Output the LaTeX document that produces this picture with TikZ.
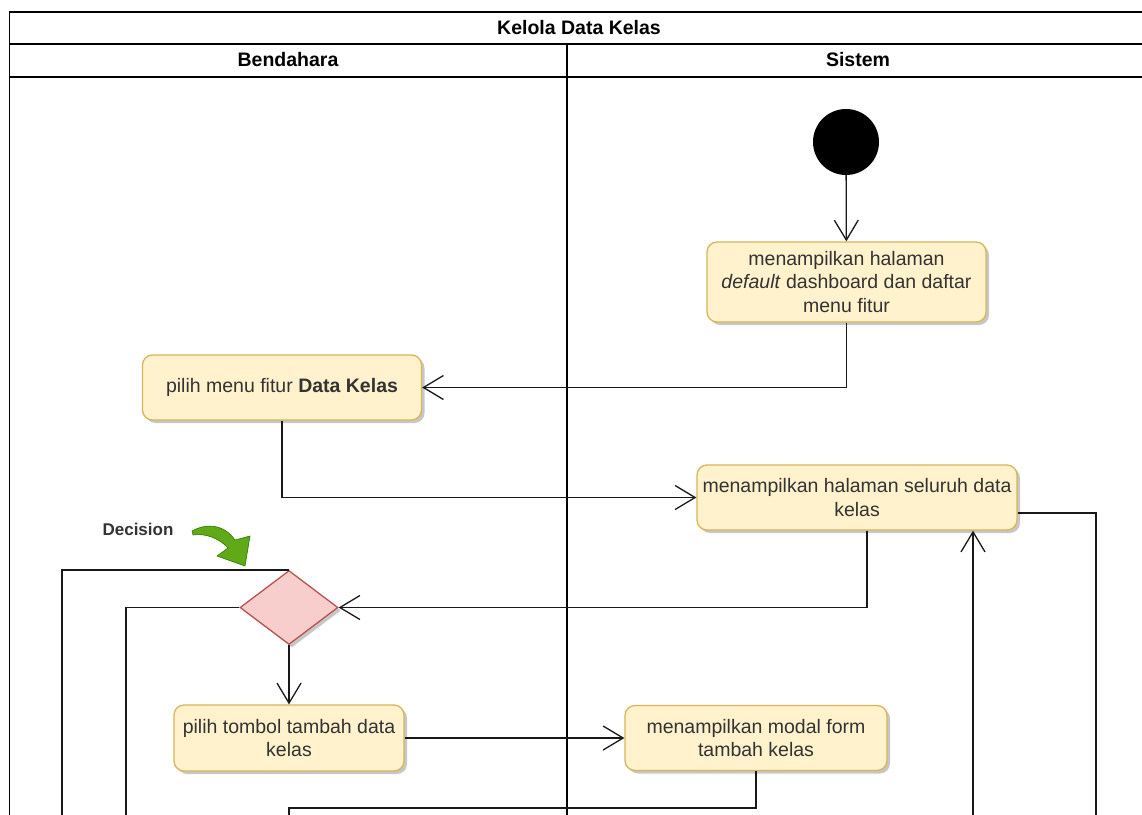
\documentclass[tikz,border=0pt]{standalone}
\usepackage{fontspec}
\setmainfont{Liberation Sans}
\usetikzlibrary{arrows.meta,shapes.geometric,shadows,calc}
\definecolor{actfill}{HTML}{FFF2CC}
\definecolor{actdraw}{HTML}{D6B656}
\definecolor{decfill}{HTML}{F8CECC}
\definecolor{decdraw}{HTML}{B85450}
\definecolor{gfill}{HTML}{60A917}
\definecolor{gdraw}{HTML}{2D7600}
\definecolor{txt}{HTML}{333333}
\begin{document}
\begin{tikzpicture}[x=1pt,y=-1pt,
  act/.style={rectangle, rounded corners=10pt, draw=actdraw, fill=actfill, line width=1.3pt,
    align=center, text=txt, font=\fontsize{19.5}{23.5}\selectfont, inner sep=0pt,
    drop shadow={shadow xshift=3pt, shadow yshift=-3pt, fill=black, opacity=0.22}},
  dec/.style={diamond, draw=decdraw, fill=decfill, line width=1.3pt, inner sep=0pt,
    minimum width=98pt, minimum height=74pt,
    drop shadow={shadow xshift=3pt, shadow yshift=-3pt, fill=black, opacity=0.22}},
  conn/.style={draw=black!90, line width=1.3pt},
  arr/.style={conn, -{Straight Barb[length=20pt,width=24pt]}},
  frame/.style={draw=black, line width=1.6pt},
  hdr/.style={font=\bfseries\fontsize{19.5}{23.5}\selectfont, text=black, inner sep=0pt}
]
\useasboundingbox (0,0) rectangle (1142,814);
\clip (0,0) rectangle (1142,814);
\fill[white] (0,0) rectangle (1142,814);

% swimlane frame
\draw[frame] (9.5,12) rectangle (1150,900);
\draw[frame] (9.5,44) -- (1150,44);
\draw[frame] (9.5,77) -- (1150,77);
\draw[frame] (567,44) -- (567,900);
\node[hdr] (title) at (579,28) {Kelola Data Kelas};
\node[hdr] (lane1) at (288,60) {Bendahara};
\node[hdr] (lane2) at (858,60) {Sistem};

% nodes
\node[circle, fill=black, minimum size=66pt, inner sep=0pt] (start) at (846,142) {};
\node[act, minimum width=279pt, minimum height=80pt] (b1) at (846.5,282)
  {menampilkan halaman\\\textit{default} dashboard dan daftar\\menu fitur};
\node[act, minimum width=279pt, minimum height=65pt] (b2) at (282,387.5)
  {pilih menu fitur \textbf{Data Kelas}};
\node[act, minimum width=320pt, minimum height=65pt] (b3) at (857,497.5)
  {menampilkan halaman seluruh data\\kelas};
\node[dec] (d) at (289,607.5) {};
\node[act, minimum width=230pt, minimum height=66pt] (b4) at (289,738)
  {pilih tombol tambah data\\kelas};
\node[act, minimum width=262pt, minimum height=65pt] (b5) at (756,738)
  {menampilkan modal form\\tambah kelas};

% label
\node[font=\bfseries\fontsize{17}{20}\selectfont, text=txt, inner sep=0pt] (declbl) at (138,529) {Decision};
\filldraw[fill=gfill, draw=gdraw, line width=0.6pt]
  (192,531) .. controls (206,523) and (224,524) .. (235,540) -- (250,536) -- (245,566)
  -- (217,556) -- (228,548) .. controls (219,538) and (205,533) .. (193,535) -- cycle;

% free-end coordinates (below the visible area)
\coordinate (e1) at (1096,840);
\coordinate (e2) at (973,840);
\coordinate (e3) at (62,840);
\coordinate (e4) at (126,840);
\coordinate (e5) at (289,840);

% connectors
\draw[arr] (start) -- (b1);
\draw[arr] (b1.south) |- (b2.east);
\draw[arr] (b2.south) |- (b3.west);
\draw[arr] ($(b3.south)+(10,0)$) |- (d.east);
\draw[conn] ($(b3.east)+(0,15.5)$) -| (e1);
\draw[arr] (e2) -- (e2 |- b3.south);
\draw[conn] (d.north) -| (e3);
\draw[conn] (d.west) -| (e4);
\draw[arr] (d.south) -- (b4.north);
\draw[arr] (b4.east) -- (b5.west);
\draw[conn] (b5.south) |- ($(e5)+(0,-32)$) -- (e5);
\end{tikzpicture}
\end{document}
